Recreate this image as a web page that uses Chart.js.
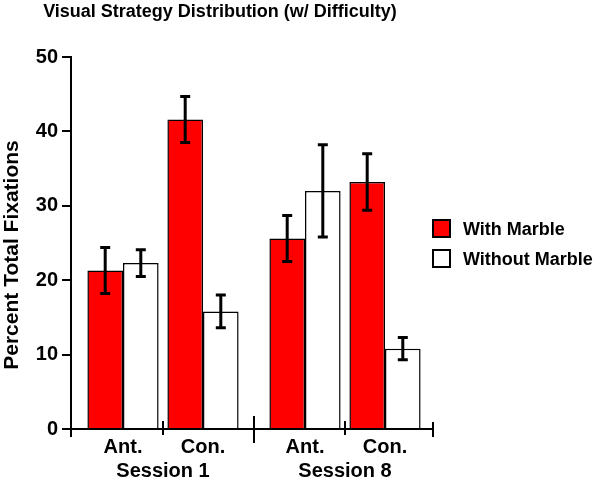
<!DOCTYPE html>
<html>
<head>
<meta charset="utf-8">
<script src="https://cdn.jsdelivr.net/npm/chart.js@4.4.0/dist/chart.umd.min.js"></script>
<style>
  html, body { margin: 0; padding: 0; background: #fff; }
</style>
</head>
<body>
<canvas id="chart" width="600" height="481"></canvas>
<script>
/* ===== Data ===== */
const sessions = ['Session 1', 'Session 8'];
const conditions = ['Ant.', 'Con.'];
const withMarble = [21.3, 41.6, 25.6, 33.2];
const withMarbleErr = [3.1, 3.1, 3.1, 3.8];
const withoutMarble = [22.3, 15.8, 32.0, 10.8];
const withoutMarbleErr = [1.8, 2.2, 6.2, 1.5];
const yTicks = [0, 10, 20, 30, 40, 50];

/* ===== Layout ===== */
const FONT = '"Liberation Sans", Arial, sans-serif';
const SESSION_STEP = 2.275;   // distance between session groups (in category units)
const X_MIN = -0.65, X_MAX = 3.875;

// one slot per session x condition
const slots = [];
sessions.forEach((s, si) => conditions.forEach((c, ci) => {
  slots.push({ label: c, session: si, x: ci + si * SESSION_STEP });
}));
const toPoints = vals => vals.map((v, i) => ({ x: slots[i].x, y: v }));

/* ===== Decorations: error bars, axis marks, labels, legend ===== */
const decor = {
  id: 'decor',
  afterDatasetsDraw(chart) {
    const { ctx, scales: { y } } = chart;
    ctx.save();
    ctx.strokeStyle = '#000';
    ctx.lineWidth = 3;
    chart.data.datasets.forEach((ds, di) => {
      chart.getDatasetMeta(di).data.forEach((bar, i) => {
        const v = ds.data[i].y, e = ds.errors[i];
        const top = y.getPixelForValue(v + e), bot = y.getPixelForValue(v - e);
        ctx.beginPath();
        ctx.moveTo(bar.x, top); ctx.lineTo(bar.x, bot);
        ctx.moveTo(bar.x - 5, top); ctx.lineTo(bar.x + 5, top);
        ctx.moveTo(bar.x - 5, bot); ctx.lineTo(bar.x + 5, bot);
        ctx.stroke();
      });
    });
    ctx.restore();
  },
  afterDraw(chart) {
    const { ctx, chartArea: area, scales: { x } } = chart;
    const base = area.bottom;
    ctx.save();
    ctx.strokeStyle = '#000';
    ctx.lineWidth = 2;
    const mark = (px, up, down) => {
      ctx.beginPath(); ctx.moveTo(px, base - up); ctx.lineTo(px, base + down); ctx.stroke();
    };
    // y axis runs a little below the x axis
    mark(area.left, 0, 8);
    mark(area.right, 7, 8);
    sessions.forEach((s, si) => {
      const a = si * SESSION_STEP;
      mark(x.getPixelForValue(a + 0.5), 8, 6);
    });
    mark(x.getPixelForValue((1 + SESSION_STEP) / 2), 13, 14);

    ctx.fillStyle = '#000';
    // session labels
    ctx.font = `bold 20px ${FONT}`;
    ctx.textAlign = 'center';
    ctx.textBaseline = 'alphabetic';
    sessions.forEach((s, si) => {
      ctx.fillText(s, x.getPixelForValue(si * SESSION_STEP + 0.5), 477);
    });

    // title
    ctx.font = `bold 18px ${FONT}`;
    ctx.fillText('Visual Strategy Distribution (w/ Difficulty)', 220, 17);

    // y title
    ctx.save();
    ctx.translate(12, 255);
    ctx.rotate(-Math.PI / 2);
    ctx.font = `bold 21px ${FONT}`;
    ctx.textBaseline = 'middle';
    ctx.fillText('Percent Total Fixations', 0, 0);
    ctx.restore();

    // legend
    ctx.font = `bold 18px ${FONT}`;
    ctx.textAlign = 'left';
    chart.data.datasets.forEach((ds, di) => {
      const top = 220 + di * 30;
      ctx.fillStyle = ds.backgroundColor;
      ctx.fillRect(433, top, 17, 17);
      ctx.strokeRect(433, top, 17, 17);
      ctx.fillStyle = '#000';
      ctx.fillText(ds.label, 463, top + 15);
    });
    ctx.restore();
  }
};

new Chart(document.getElementById('chart'), {
  type: 'bar',
  data: {
    datasets: [
      { label: 'With Marble', data: toPoints(withMarble), errors: withMarbleErr,
        backgroundColor: '#ff0000', borderColor: '#000', borderWidth: 1.5 },
      { label: 'Without Marble', data: toPoints(withoutMarble), errors: withoutMarbleErr,
        backgroundColor: '#ffffff', borderColor: '#000', borderWidth: 1.5 }
    ]
  },
  plugins: [decor],
  options: {
    responsive: false,
    animation: false,
    layout: { padding: { top: 57, right: 167, left: 0, bottom: 0 } },
    datasets: { bar: { categoryPercentage: 0.89, barPercentage: 1 } },
    plugins: { legend: { display: false }, tooltip: { enabled: false } },
    scales: {
      x: {
        type: 'linear', min: X_MIN, max: X_MAX, z: 1, offset: false,
        afterBuildTicks: s => { s.ticks = slots.map(sl => ({ value: sl.x })); },
        afterFit: s => { s.height = 52; },
        ticks: {
          color: '#000', padding: 6,
          font: { family: FONT, size: 20, weight: 'bold' },
          callback: (v, i) => slots[i] ? slots[i].label : ''
        },
        grid: { display: true, offset: false, drawOnChartArea: false, drawTicks: false },
        border: { color: '#000', width: 2 }
      },
      y: {
        min: 0, max: 50, z: 1,
        afterBuildTicks: s => { s.ticks = yTicks.map(v => ({ value: v })); },
        afterFit: s => { s.width = 71; },
        ticks: {
          color: '#000', padding: 4,
          font: { family: FONT, size: 20, weight: 'bold' }
        },
        grid: { drawOnChartArea: false, color: '#000', lineWidth: 2, tickLength: 9 },
        border: { color: '#000', width: 2 }
      }
    }
  }
});
</script>
</body>
</html>
